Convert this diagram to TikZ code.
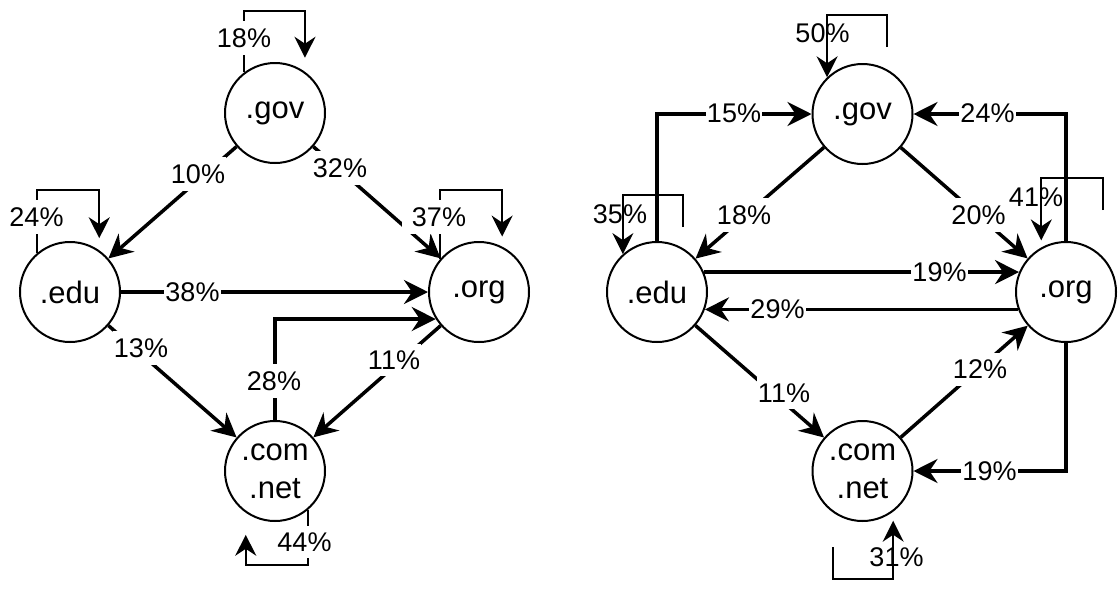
\documentclass[tikz,border=0pt]{standalone}
\usepackage{fontspec}
\setmainfont{Liberation Sans}
\usetikzlibrary{arrows.meta}
\begin{document}
\begin{tikzpicture}[x=1pt,y=-1pt,
  site/.style={circle,draw,line width=2pt,minimum size=100pt,inner sep=0pt,
    align=center,font=\fontsize{31}{38}\selectfont},
  flow/.style={line width=3.5pt,-{Stealth[length=24pt,width=24pt,inset=8pt]}},
  selfloop/.style={line width=1.8pt,-{Stealth[length=21pt,width=21pt,inset=7pt]}},
  pct/.style={font=\fontsize{27}{32}\selectfont,fill=white,inner xsep=1pt,inner ysep=7pt},
  pctclear/.style={pct,fill=none}]
\useasboundingbox (0,0) rectangle (1119,592);

% ---------- left graph ----------
\node[site] (gov) at (275,113) {.gov};
\node[site] (edu) at (70,292) {.edu};
\node[site] (org) at (479,292) {.org};
\node[site] (com) at (275,471) {.com\\.net};

\draw[selfloop,shorten >=14pt] (gov.127) -- ++(0,-61) -| (gov.54);
\draw[selfloop,shorten >=12pt] (edu.130) -- ++(0,-63) -| (edu.55);
\draw[selfloop,shorten >=10pt] (org.140) -- ++(0,-69) -| (org.63);
\draw[selfloop,shorten >=22pt] (com.-50) -- ++(0,55) -| (com.-125);

\draw[flow] (gov) -- (edu);
\draw[flow] (gov) -- (org);
\draw[flow] (edu) -- (org);
\draw[flow] (com.north) |- (org.212);
\draw[flow] (org) -- (com);
\draw[flow] (edu) -- (com);

\node[pct] (l18) at (244,38) {18\%};
\node[pct] (l24) at (36.5,217) {24\%};
\node[pct,inner xsep=10pt] (l37) at (439,217) {37\%};
\node[pct] (l44) at (304.5,542) {44\%};
\node[pct] (l10) at (198,174) {10\%};
\node[pct] (l32) at (340,168) {32\%};
\node[pct] (l38) at (192.5,292) {38\%};
\node[pct] (l28) at (274,381) {28\%};
\node[pct] (l11) at (394,360) {11\%};
\node[pct] (l13) at (141,348) {13\%};

% ---------- right graph ----------
\node[site] (gov2) at (862.5,114) {.gov};
\node[site] (edu2) at (657,292) {.edu};
\node[site] (org2) at (1066,292) {.org};
\node[site] (com2) at (862.5,471) {.com\\.net};

\coordinate (s50) at (887,47);
\coordinate (s35) at (683,227);
\coordinate (s41) at (1103,210);
\coordinate (s31) at (833,547);

\draw[selfloop] (s50) -- ++(0,-32) -| (gov2.134);
\draw[selfloop] (s35) -- ++(0,-32) -| (edu2.132);
\draw[selfloop,shorten >=7pt] (s41) -- ++(0,-32) -| (org2.119);
\draw[selfloop,shorten >=9pt] (s31) -- ++(0,32) -| (com2.-53);

\node[pctclear] (r50) at (822.5,33) {50\%};
\node[pctclear] (r35) at (620,214) {35\%};
\node[pctclear] (r41) at (1036,197) {41\%};
\node[pctclear] (r31) at (896.5,557) {31\%};

\draw[flow] (edu2.north) |- (gov2.west);
\draw[flow] (org2.north) |- (gov2.east);
\draw[flow] (gov2) -- (edu2);
\draw[flow] (gov2) -- (org2);
\draw[flow] (edu2.23) -- (org2.157);
\draw[flow] (org2.200) -- (edu2.340);
\draw[flow] (edu2) -- (com2);
\draw[flow] (com2) -- (org2);
\draw[flow] (org2.south) |- (com2.east);

\node[pct] (r15) at (734,113) {15\%};
\node[pct] (r24) at (987.5,113) {24\%};
\node[pct] (r18) at (744,215) {18\%};
\node[pct] (r20) at (978.5,215) {20\%};
\node[pct] (r19a) at (939.5,272) {19\%};
\node[pct] (r29) at (777.5,309) {29\%};
\node[pct] (r11) at (784,393) {11\%};
\node[pct] (r12) at (980,369) {12\%};
\node[pct] (r19b) at (989.5,471) {19\%};
\end{tikzpicture}
\end{document}
